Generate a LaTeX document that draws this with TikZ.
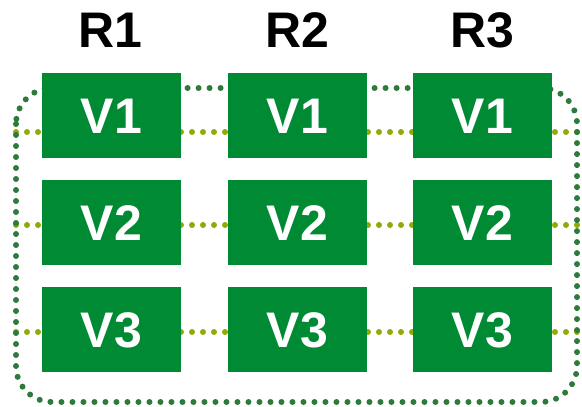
\documentclass[tikz,border=0pt]{standalone}
\usepackage{fontspec}
\usepackage{tikz}
\newfontfamily\boxfont{Liberation Sans}
\definecolor{vgreen}{RGB}{0,138,52}
\definecolor{ringgreen}{RGB}{45,122,58}
\definecolor{rowolive}{RGB}{145,170,8}
\tikzset{
  vbox/.style={fill=vgreen, draw=none, inner sep=0pt, minimum width=139pt, minimum height=85pt,
    text=white, font=\boxfont\bfseries\fontsize{50}{50}\selectfont, text height=36pt, text depth=0pt},
  rtitle/.style={inner sep=0pt, text=black, font=\boxfont\bfseries\fontsize{50}{50}\selectfont,
    text height=36pt, text depth=0pt},
  dots/.style={line width=6pt, line cap=round, dash pattern=on 0pt off 11pt},
  rowline/.style={dots, draw=rowolive},
  ringline/.style={dots, draw=ringgreen, rounded corners=36pt}
}
\begin{document}
\begin{tikzpicture}[x=1pt, y=-1pt]
	\useasboundingbox (0,0) rectangle (582,407);

    % row lines behind the boxes
    \coordinate (w1) at (16,132);  \coordinate (e1) at (578,132);
    \coordinate (w2) at (16,225);  \coordinate (e2) at (578,225);
    \coordinate (w3) at (16,332);  \coordinate (e3) at (578,332);
    \draw[rowline] (w1) -- (e1);
    \draw[rowline] (w2) -- (e2);
    \draw[rowline] (w3) -- (e3);

    % ring round all replicas
    \draw[ringline] (16,88) rectangle (577,402);

    \node[rtitle] (r1) at (110,29) {R1};
    \node[rtitle] (r2) at (297,29) {R2};
    \node[rtitle] (r3) at (482,29) {R3};

    \node[vbox] (a1) at (111.5,115.5) {V1};
    \node[vbox] (a2) at (111.5,222.5) {V2};
    \node[vbox] (a3) at (111.5,329.5) {V3};

    \node[vbox] (b1) at (297.5,115.5) {V1};
    \node[vbox] (b2) at (297.5,222.5) {V2};
    \node[vbox] (b3) at (297.5,329.5) {V3};

    \node[vbox] (c1) at (482.5,115.5) {V1};
    \node[vbox] (c2) at (482.5,222.5) {V2};
    \node[vbox] (c3) at (482.5,329.5) {V3};

\end{tikzpicture}
\end{document}
